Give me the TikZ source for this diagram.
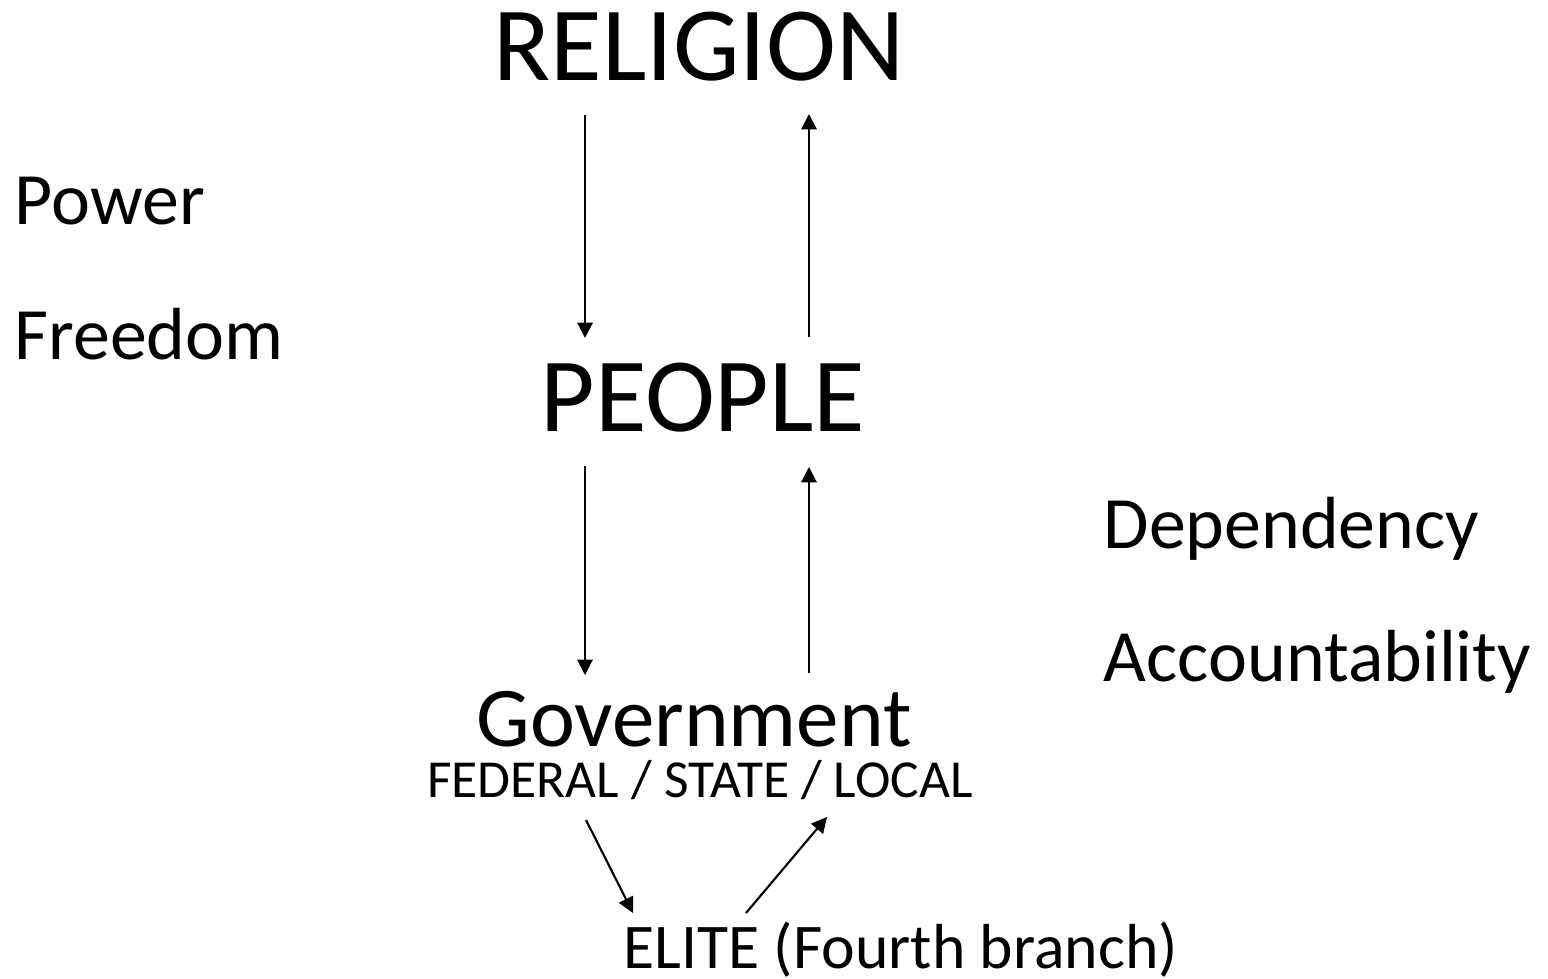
\documentclass[tikz,border=0pt]{standalone}
\usepackage{fontspec}
\setmainfont{Carlito}
\usetikzlibrary{arrows.meta}
\begin{document}
\begin{tikzpicture}[x=0.01cm,y=-0.01cm,
  big/.style={font=\fontsize{30}{31}\selectfont, inner sep=0pt},
  side/.style={font=\fontsize{21}{22}\selectfont, inner sep=0pt, anchor=base west},
  gov/.style={font=\fontsize{24.2}{25}\selectfont, inner sep=0pt},
  sub/.style={font=\fontsize{15.2}{16}\selectfont, inner sep=0pt, text height=0.62em},
  elite/.style={font=\fontsize{18.1}{20}\selectfont, inner sep=0pt, anchor=base west},
  arr/.style={line width=0.6pt, -{Triangle[length=4.4pt,width=4.4pt]}}]
\useasboundingbox (0,0) rectangle (1548,979);
\node[big, anchor=base] (rel) at (699,81) {RELIGION};
\node[big, anchor=base] (peo) at (703,432) {PEOPLE};
\node[gov, anchor=base] (gov) at (694,746) {Government};
\node[sub, anchor=base] (fsl) at (700,797) {FEDERAL / STATE / LOCAL};
\node[elite] (eli) at (623,968) {ELITE (Fourth branch)};
\node[side] (pow) at (14,225) {Power};
\node[side] (fre) at (14,360) {Freedom};
\node[side] (dep) at (1103,548) {Dependency};
\node[side] (acc) at (1103,681) {Accountability};
% connector end points
\coordinate (a1s) at (585,115);
\coordinate (a1e) at (585,338);
\coordinate (a2s) at (809,337);
\coordinate (a2e) at (809,114);
\coordinate (a3s) at (585,466);
\coordinate (a3e) at (585,675);
\coordinate (a4s) at (809,673);
\coordinate (a4e) at (809,467);
\coordinate (a5s) at (586,820);
\coordinate (a5e) at (633,913);
\coordinate (a6s) at (746,913);
\coordinate (a6e) at (827,817);
\draw[arr] (a1s) -- (a1e);
\draw[arr] (a2s) -- (a2e);
\draw[arr] (a3s) -- (a3e);
\draw[arr] (a4s) -- (a4e);
\draw[arr] (a5s) -- (a5e);
\draw[arr] (a6s) -- (a6e);
\end{tikzpicture}
\end{document}
